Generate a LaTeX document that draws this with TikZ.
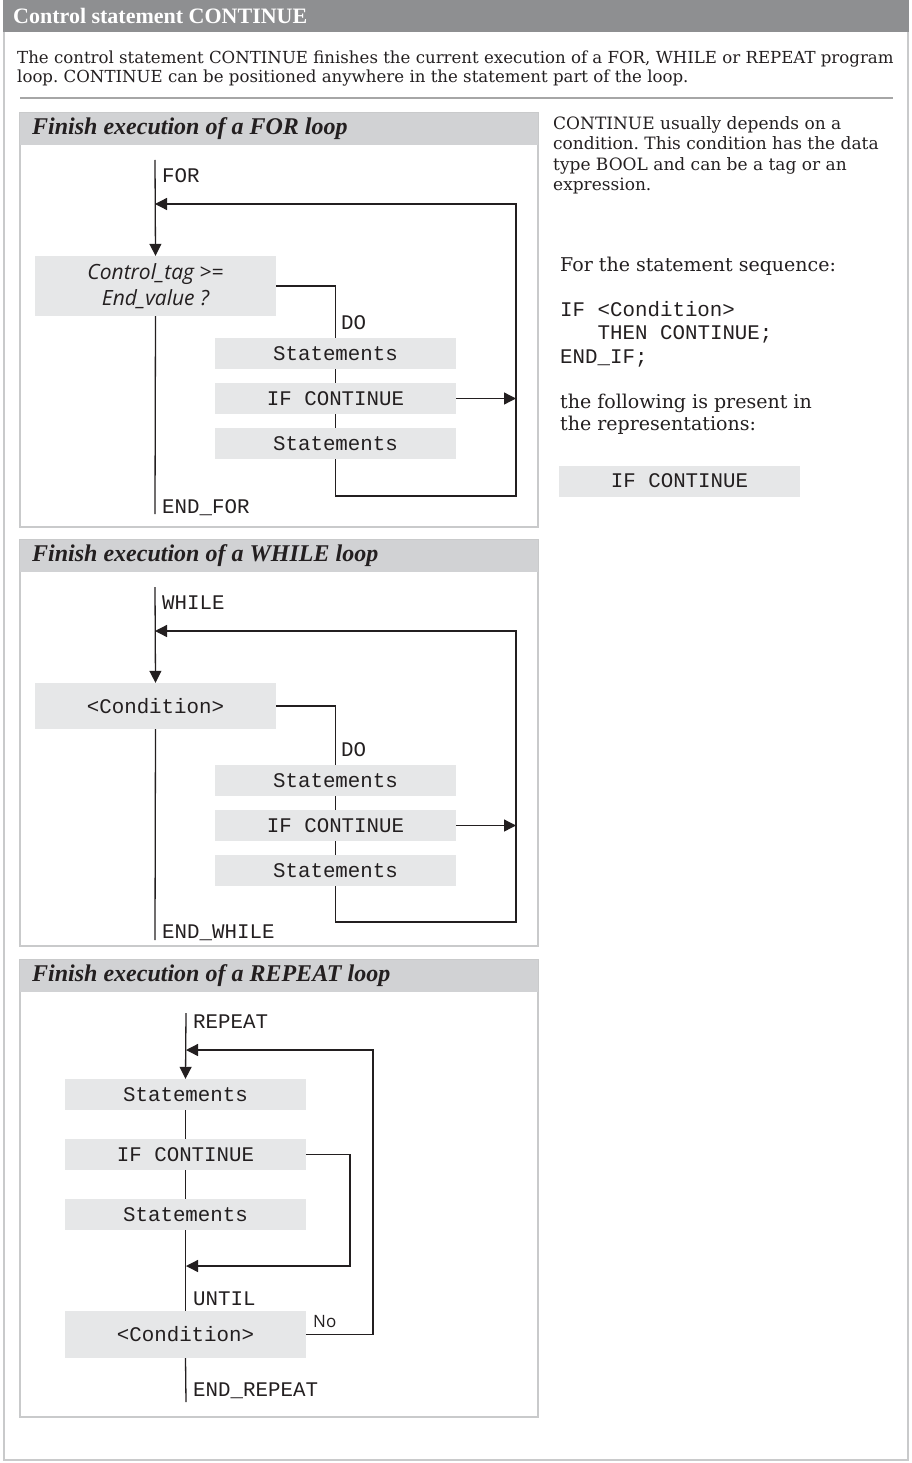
\documentclass[tikz,border=0pt]{standalone}
\usepackage{fontspec}
\setmainfont{DejaVu Serif}
\setmonofont{Liberation Mono}
\newfontfamily\headfont{Liberation Serif}
\newfontfamily\labelsans{Open Sans}
\usetikzlibrary{arrows.meta, positioning, calc}
\frenchspacing

\definecolor{bargray}{HTML}{8E8F91}
\definecolor{panelgray}{HTML}{D1D2D4}
\definecolor{boxgray}{HTML}{E6E7E8}
\definecolor{framegray}{HTML}{C9CACB}
\definecolor{inkgray}{HTML}{231F20}

\begin{document}
\begin{tikzpicture}[x=1pt, y=-1pt,
    % Define node styles
    stmt/.style={rectangle, fill=boxgray, minimum width=241pt, minimum height=31pt, inner sep=0pt, font=\ttfamily\fontsize{20.8}{24}\selectfont, text=inkgray},
    cond/.style={stmt, minimum height=47pt},
    kw/.style={anchor=west, inner sep=0pt, font=\ttfamily\fontsize{20.8}{24}\selectfont, text=inkgray},
    paneltitle/.style={anchor=west, inner sep=0pt, font=\headfont\bfseries\itshape\fontsize{24}{28}\selectfont, text=inkgray},
    prose/.style={inner sep=0pt, align=left, text=inkgray},
    % Define edge style
    edge/.style={line width=1.3pt, draw=inkgray},
    arrow/.style={edge, -{Triangle[length=12pt, width=12pt]}},
]
\useasboundingbox (0,0) rectangle (912,1463);

% Drawing the outer frame and its header
\draw[framegray, line width=2pt] (4,0) rectangle (908,1460);
\fill[bargray] (3,0) rectangle (909,32);
\node[anchor=west, inner sep=0pt, text=white, font=\headfont\bfseries\fontsize{22}{25}\selectfont] (title) at (13,16) {Control statement CONTINUE};

% Intro text and separator
\node[prose, anchor=north west, font=\fontsize{16.6}{19}\selectfont] (intro) at (17,51) {The control statement CONTINUE finishes the current execution of a FOR, WHILE or REPEAT program\\loop. CONTINUE can be positioned anywhere in the statement part of the loop.};
\draw[gray!70, line width=1.5pt] (20,98) -- (893,98);

% Drawing the three panels
\foreach \top/\bot in {113/527, 540/946, 960/1417} {
    \draw[framegray, line width=1.5pt] (20,\top) rectangle (538,\bot);
    \fill[panelgray] (20,\top) rectangle (538,\top+32);
}
\node[paneltitle] (forhead) at (32,129) {Finish execution of a FOR loop};
\node[paneltitle] (whilehead) at (32,556) {Finish execution of a WHILE loop};
\node[paneltitle] (repeathead) at (32,976) {Finish execution of a REPEAT loop};

% FOR loop
\coordinate (fortop) at (155,160);
\coordinate (forback) at (155,204);
\coordinate (forright) at (516,204);
\coordinate (forbottom) at (516,496);
\coordinate (forend) at (155,514);
\node[cond, minimum height=60pt, align=center, font=\labelsans\itshape\fontsize{21}{26}\selectfont] (forcond) at (155.5,286) {Control\_tag >=\\End\_value ?};
\node[stmt] (fors1) at (335.5,353.5) {Statements};
\node[stmt] (fors2) at (335.5,398.5) {IF CONTINUE};
\node[stmt] (fors3) at (335.5,443.5) {Statements};
\node[kw] (forkw) at (162,176) {FOR};
\node[kw] (fordo) at (341,323) {DO};
\node[kw] (forendkw) at (162,508) {END\_FOR};

\draw[arrow] (fortop) -- (forcond.north);
\draw[edge] (forcond.south) -- (forend);
\draw[edge] (forcond.east) -| (fors1.north);
\draw[edge] (fors1.south) -- (fors2.north);
\draw[edge] (fors2.south) -- (fors3.north);
\draw[arrow] (fors3.south) |- (forbottom) -- (forright) -- (forback);
\draw[arrow] (fors2.east) -- (fors2.east -| forright);

% WHILE loop
\coordinate (whiletop) at (155,587);
\coordinate (whileback) at (155,631);
\coordinate (whileright) at (516,631);
\coordinate (whilebottom) at (516,922);
\coordinate (whileend) at (155,940);
\node[cond, minimum height=46pt] (whilecond) at (155.5,706) {<Condition>};
\node[stmt] (whiles1) at (335.5,780.5) {Statements};
\node[stmt] (whiles2) at (335.5,825.5) {IF CONTINUE};
\node[stmt] (whiles3) at (335.5,870.5) {Statements};
\node[kw] (whilekw) at (162,603) {WHILE};
\node[kw] (whiledo) at (341,750) {DO};
\node[kw] (whileendkw) at (162,933) {END\_WHILE};

\draw[arrow] (whiletop) -- (whilecond.north);
\draw[edge] (whilecond.south) -- (whileend);
\draw[edge] (whilecond.east) -| (whiles1.north);
\draw[edge] (whiles1.south) -- (whiles2.north);
\draw[edge] (whiles2.south) -- (whiles3.north);
\draw[arrow] (whiles3.south) |- (whilebottom) -- (whileright) -- (whileback);
\draw[arrow] (whiles2.east) -- (whiles2.east -| whileright);

% REPEAT loop
\coordinate (reptop) at (186,1013);
\coordinate (repback) at (186,1050);
\coordinate (repright) at (373,1050);
\coordinate (repinner) at (350,1266);
\coordinate (repjoin) at (186,1266);
\coordinate (repend) at (186,1402);
\node[stmt] (reps1) at (185.5,1094.5) {Statements};
\node[stmt] (reps2) at (185.5,1154.5) {IF CONTINUE};
\node[stmt] (reps3) at (185.5,1214.5) {Statements};
\node[cond] (repcond) at (185.5,1334.5) {<Condition>};
\node[kw] (repkw) at (193,1022) {REPEAT};
\node[kw] (repuntil) at (193,1299) {UNTIL};
\node[kw] (rependkw) at (193,1391) {END\_REPEAT};
\node[anchor=west, inner sep=0pt, text=inkgray, font=\labelsans\fontsize{17}{20}\selectfont] (repno) at (313,1321) {No};

\draw[arrow] (reptop) -- (reps1.north);
\draw[edge] (reps1.south) -- (reps2.north);
\draw[edge] (reps2.south) -- (reps3.north);
\draw[edge] (reps3.south) -- (repcond.north);
\draw[edge] (repcond.south) -- (repend);
\draw[arrow] (reps2.east) -| (repinner) -- (repjoin);
\draw[arrow] (repcond.east) -| (repright) -- (repback);

% Side notes
\node[prose, anchor=north west, font=\fontsize{17}{20.5}\selectfont] (note) at (553,116) {CONTINUE usually depends on a\\condition. This condition has the data\\type BOOL and can be a tag or an\\expression.};
\node[prose, anchor=base west, font=\fontsize{19}{22}\selectfont] (seqtext) at (560,271) {For the statement sequence:};
\node[kw, anchor=base west] (code1) at (560,316) {IF <Condition>};
\node[kw, anchor=base west] (code2) at (597.5,339.5) {THEN CONTINUE;};
\node[kw, anchor=base west] (code3) at (560,363) {END\_IF;};
\node[prose, anchor=north west, font=\fontsize{19}{21.5}\selectfont] (repr) at (560,394) {the following is present in\\the representations:};
\node[stmt] (sideif) at (679.5,481) {IF CONTINUE};

\end{tikzpicture}
\end{document}
